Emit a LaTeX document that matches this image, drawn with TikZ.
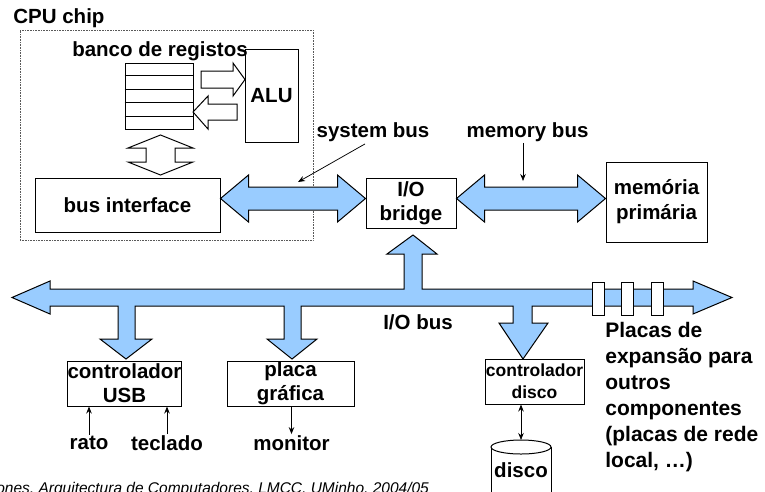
\documentclass[tikz,border=0pt]{standalone}
\usepackage{fontspec}
\setmainfont{Liberation Sans}
\usetikzlibrary{arrows.meta,calc}

\definecolor{busblue}{RGB}{153,204,255}
\newcommand{\lbl}{\fontsize{20.5}{24}\selectfont\bfseries}
\tikzset{every picture/.style={line width=0.75pt}}
\tikzset{
  box/.style={draw, line width=1pt, inner sep=0pt, align=center, font=\lbl},
  txt/.style={inner sep=1pt, align=center, font=\lbl},
  bus/.style={draw, fill=busblue, line width=1pt},
  hollow/.style={draw, fill=white, line width=1pt},
  slot/.style={draw, fill=white, line width=1pt, inner sep=0pt, minimum width=11.5pt, minimum height=33pt},
  pointer/.style={-{Stealth[length=7pt,width=5.5pt]}},
}
% horizontal double bus arrow, from tip to tip
\newcommand{\hbus}[2]{\draw[bus] (#1) -- ++(28,-23.5) -- ++(0,12) -- ($(#2)+(-28,-11.5)$) -- ++(0,-12) -- (#2) -- ++(-28,23.5) -- ++(0,-12) -- ($(#1)+(28,11.5)$) -- ++(0,12) -- cycle;}

\begin{document}
\begin{tikzpicture}[x=1pt,y=1pt,yscale=-1]
  \path[use as bounding box, clip] (0,0) rectangle (765,491);

  %Shape: Rectangle [CPU chip, dotted]
  \node[draw, densely dotted, line width=0.6pt, gray!70!black, minimum width=293pt, minimum height=210pt, inner sep=0pt] (cpu) at (166.5,135) {};
  % Text Node
  \node[txt, anchor=west, font=\fontsize{20.5}{22}\selectfont\bfseries] (cpulbl) at (12,18) {CPU chip};

  %Shape: Rectangle [register file]
  \node[draw, line width=1pt, minimum width=68pt, minimum height=66pt, inner sep=0pt] (regs) at (159,96) {};
  \foreach \i in {1,...,4}
    \draw[line width=1pt] ($(regs.north west)!\i/5!(regs.south west)$) -- ($(regs.north east)!\i/5!(regs.south east)$);
  %Shape: Rectangle [ALU]
  \node[box, minimum width=53pt, minimum height=93pt] (alu) at (271.5,95.5) {ALU};
  % Text Node
  \node[txt] (regslbl) at (160,51) {banco de registos};
  %Shape: Rectangle [bus interface]
  \node[box, minimum width=185pt, minimum height=54pt] (busif) at (127.5,205) {bus interface};

  %Right Arrow [regs -> ALU]
  \draw[hollow] (201,71) -- (233,71) -- (233,63) -- (245,79.5) -- (233,96) -- (233,88) -- (201,88) -- cycle;
  %Left Arrow [ALU -> regs]
  \draw[hollow] (237,104) -- (208,104) -- (208,96) -- (193,112) -- (208,129) -- (208,120) -- (237,120) -- cycle;
  %Up-Down Arrow [regs <-> bus interface]
  \draw[hollow] (160.5,135) -- (193,148) -- (175,148) -- (175,162) -- (193,162) -- (160.5,175) -- (128,162) -- (146,162) -- (146,148) -- (128,148) -- cycle;

  %Shape: Rectangle [I/O bridge, memory]
  \node[box, minimum width=90pt, minimum height=50pt] (bridge) at (411,203) {I/O\\bridge};
  \node[box, minimum width=101pt, minimum height=80pt, font=\fontsize{20.5}{25}\selectfont\bfseries] (mem) at (656.5,202) {memória\\primária};

  % system bus, memory bus
  \coordinate (busy) at (0,198.5);
  \coordinate (sbL) at (busif.east |- busy);
  \coordinate (sbR) at (bridge.west |- busy);
  \coordinate (mbL) at (bridge.east |- busy);
  \coordinate (mbR) at (mem.west |- busy);
  \hbus{sbL}{sbR}
  \hbus{mbL}{mbR}

  % Text Node
  \node[txt] (sysbuslbl) at (373,132) {system bus};
  \node[txt] (membuslbl) at (527.5,132) {memory bus};
  \coordinate (sbtip) at (298,182);
  \coordinate (mbtip) at (523,181);
  \draw[pointer] ($(sysbuslbl.south)+(-8,1)$) -- (sbtip);
  \draw[pointer] (membuslbl.south -| mbtip) -- (mbtip);

  %Shape: I/O bus with its branches
  \draw[bus] (12,297.5) -- (50,281) -- (50,289) -- (404,289) -- (404,254) -- (387,254) -- (413,235) -- (437,254) -- (422,254) -- (422,289)
    -- (693,289) -- (693,281) -- (732,297.5) -- (693,314) -- (693,306)
    -- (532,306) -- (532,323) -- (548,323) -- (523,359) -- (499,323) -- (513,323) -- (513,306)
    -- (301,306) -- (301,339) -- (317,339) -- (292,359) -- (267,339) -- (284,339) -- (284,306)
    -- (135,306) -- (135,339) -- (152,339) -- (126,359) -- (100,339) -- (118,339) -- (118,306)
    -- (50,306) -- (50,314) -- cycle;
  % expansion slots
  \foreach \x [count=\i] in {598.5,627.5,657.5}
    \node[slot] (slot\i) at (\x,298.5) {};
  % Text Node
  \node[txt] (iobuslbl) at (418,322) {I/O bus};

  %Shape: Rectangle [controllers]
  \node[box, minimum width=113pt, minimum height=45pt] (usb) at (124.5,383.5) {controlador\\USB};
  \node[box, minimum width=127pt, minimum height=45pt] (gfx) at (290.5,383.5) {placa\\gráfica};
  \node[box, minimum width=99pt, minimum height=45pt, font=\fontsize{17.5}{22}\selectfont\bfseries] (dskctl) at (534.5,381.5) {controlador\\disco};

  % Text Node
  \node[txt] (rato) at (89,443) {rato};
  \node[txt] (teclado) at (167,443) {teclado};
  \node[txt] (monitor) at (291.5,443) {monitor};
  \draw[pointer] (rato.north) -- (rato.north |- usb.south);
  \draw[pointer] (teclado.north) -- (teclado.north |- usb.south);
  \draw[pointer] (gfx.south -| monitor.north) -- (monitor.north);

  %Shape: Can [disk]
  \draw[line width=1pt, fill=white] (491,447) -- (491,505) -- (551,505) -- (551,447);
  \draw[line width=1pt, fill=white] (521,447) ellipse [x radius=30, y radius=7];
  \node[txt] (disk) at (521,470) {disco};
  \coordinate (disktop) at (521,440);
  \draw[{Stealth[length=7pt,width=5.5pt]}-{Stealth[length=7pt,width=5.5pt]}] (dskctl.south -| disktop) -- (disktop);

  % Text Node
  \node[anchor=north west, align=left, inner sep=0pt, font=\fontsize{21}{26}\selectfont\bfseries] (expan) at (605,322) {Placas de\\expansão para\\outros\\componentes\\(placas de rede\\local, …)};
  \node[anchor=base west, inner sep=0pt, font=\fontsize{15.5}{18}\selectfont\itshape] (foot) at (-4,493) {ones, Arquitectura de Computadores, LMCC, UMinho, 2004/05};
\end{tikzpicture}
\end{document}
